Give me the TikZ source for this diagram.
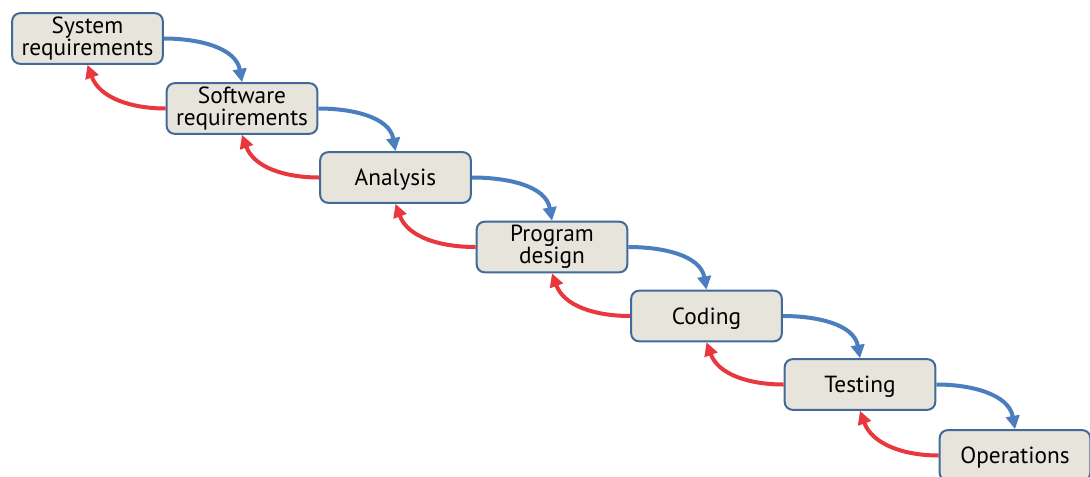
\documentclass[tikz,border=0pt]{standalone}
\usepackage{fontspec}
\setmainfont{PT Sans}
\usetikzlibrary{arrows.meta}
\definecolor{boxfill}{HTML}{E7E5DB}
\definecolor{boxdraw}{HTML}{41699A}
\definecolor{fwd}{HTML}{4A7EBE}
\definecolor{bwd}{HTML}{E8383D}
\begin{document}
\begin{tikzpicture}[x=0.75pt,y=-0.75pt,
  phase/.style={draw=boxdraw,fill=boxfill,line width=1.5pt,rounded corners=6pt,
    minimum width=113pt,minimum height=38pt,inner sep=0pt,align=center,
    font=\fontsize{17.5}{16.5}\selectfont},
  fwdarrow/.style={draw=fwd,line width=3pt,-{Triangle[length=10pt,width=10pt]}},
  bwdarrow/.style={draw=bwd,line width=3pt,-{Triangle[length=10pt,width=10pt]}}]
\useasboundingbox (0,0) rectangle (1090,476);
\node[phase] (s1) at (87.5,38.5) {System\\requirements};
\node[phase] (s2) at (242,108.5) {Software\\requirements};
\node[phase,text depth=0pt] (s3) at (395.5,177.5) {Analysis};
\node[phase] (s4) at (552,247) {Program\\design};
\node[phase,text depth=0pt] (s5) at (706.5,316) {Coding};
\node[phase,text depth=0pt] (s6) at (860,384.5) {Testing};
\node[phase,text depth=0pt] (s7) at (1015,455.5) {Operations};
\foreach \a/\b in {s1/s2,s2/s3,s3/s4,s4/s5,s5/s6,s6/s7}{
  \draw[fwdarrow] (\a.east) to[out=0,in=100] (\b.north);
  \draw[bwdarrow] (\b.west) to[out=180,in=-70] (\a.south);
}
\end{tikzpicture}
\end{document}
